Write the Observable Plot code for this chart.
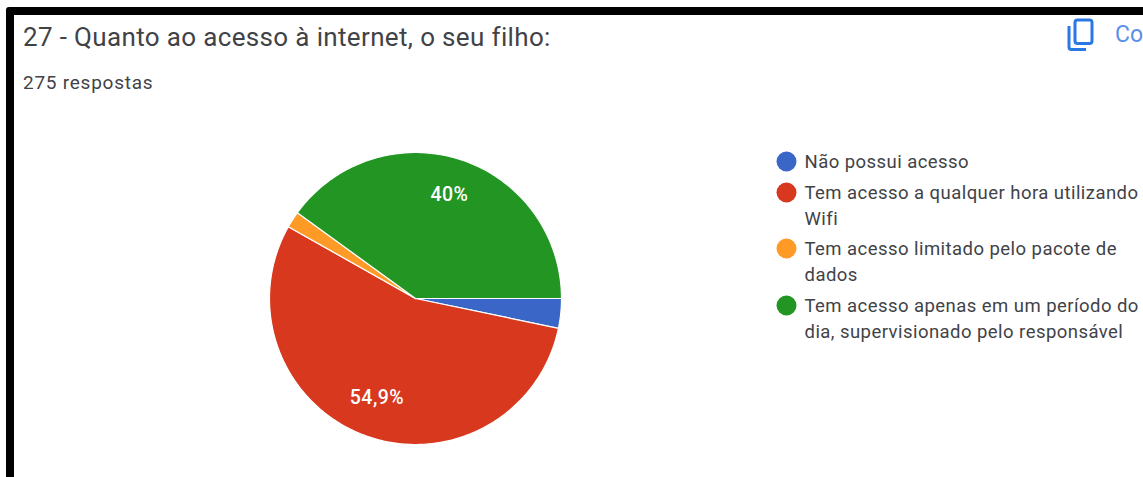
<!DOCTYPE html>
<html lang="pt">
<head>
<meta charset="utf-8">
<script src="https://cdn.jsdelivr.net/npm/d3@7"></script>
<script src="https://cdn.jsdelivr.net/npm/@observablehq/plot@0.6"></script>
<style>
  html, body { margin: 0; padding: 0; width: 1143px; height: 477px; overflow: hidden; background: #fff; font-family: Roboto, sans-serif; }
  #page { position: relative; width: 1143px; height: 477px; overflow: hidden; }
  #frame { position: absolute; left: 6px; top: 7px; width: 1200px; height: 560px; border: 8px solid #000; border-radius: 3px; box-sizing: border-box; pointer-events: none; }
  header { position: relative; height: 115px; }
  #title { position: absolute; left: 23px; top: 21px; font-size: 26px; line-height: 32px; letter-spacing: .35px; color: #3f4347; white-space: nowrap; }
  #sub { position: absolute; left: 23px; top: 72px; font-size: 19px; line-height: 22px; color: #3f4347; letter-spacing: .75px; white-space: nowrap; }
  #copy { position: absolute; left: 1115px; top: 19px; font-size: 23px; line-height: 32px; color: #5a8fe8; white-space: nowrap; }
  #icon { position: absolute; left: 1066px; top: 17px; }
  #chart svg { display: block; letter-spacing: .45px; }
</style>
</head>
<body>
<div id="page">
  <header>
    <div id="title">27 - Quanto ao acesso à internet, o seu filho:</div>
    <div id="sub">275 respostas</div>
    <svg id="icon" width="32" height="36" viewBox="0 0 32 36">
      <path d="M3 9 V30 a2.5 2.5 0 0 0 2.5 2.5 H20" fill="none" stroke="#2a78e6" stroke-width="3"/>
      <rect x="9" y="3" width="17" height="23.5" rx="2.5" fill="none" stroke="#2a78e6" stroke-width="3"/>
    </svg>
    <div id="copy">Co</div>
  </header>
  <div id="chart"></div>
  <div id="frame"></div>
</div>
<script>
const categories = [
  "Não possui acesso",
  "Tem acesso a qualquer hora utilizando\nWifi",
  "Tem acesso limitado pelo pacote de\ndados",
  "Tem acesso apenas em um período do\ndia, supervisionado pelo responsável"
];
const responses = [9, 151, 5, 110];
const sliceLabels = ["", "54,9%", "", "40%"];
const colors = ["#3a66c8", "#d8381e", "#ff9a26", "#239523"];

const W = 1143, H = 362, R = 146, CX = 415, CY = 183;
const legendDotX = 786, legendTextX = 804;
const legendY = [46, 77, 133, 190];
const legendFont = 18.5, legendLine = 26.5, legendTextLift = -2;
const labelNudge = [0, -3, 0, 0];

const total = d3.sum(responses);
let cum = 0;
const slices = categories.map((category, i) => {
  const a0 = cum / total * 2 * Math.PI;
  cum += responses[i];
  const a1 = cum / total * 2 * Math.PI;
  return {category, a0, a1, mid: (a0 + a1) / 2, label: sliceLabels[i], lines: category.split("\n").length};
});
// clockwise from 3 o'clock, in unit-radius coordinates (y up)
const px = (r, a) => r * Math.cos(a);
const py = (r, a) => -r * Math.sin(a);

const outline = slices.flatMap(s => {
  const n = Math.max(2, Math.ceil((s.a1 - s.a0) * 180 / Math.PI));
  const rim = d3.range(n + 1).map(k => {
    const a = s.a0 + (s.a1 - s.a0) * k / n;
    return {category: s.category, x: px(1, a), y: py(1, a)};
  });
  const hub = {category: s.category, x: 0, y: 0};
  return [hub, ...rim, hub];
});

const plot = Plot.plot({
  width: W, height: H,
  marginTop: 0, marginRight: 0, marginBottom: 0, marginLeft: 0,
  style: {fontFamily: "Roboto, sans-serif", background: "transparent"},
  x: {axis: null, domain: [-CX / R, (W - CX) / R], range: [0, W]},
  y: {axis: null, domain: [(CY - H) / R, CY / R], range: [H, 0]},
  color: {domain: categories, range: colors},
  marks: [
    Plot.line(outline, {x: "x", y: "y", fill: "category", stroke: "white", strokeWidth: 1.2, strokeLinejoin: "round", curve: "linear"}),
    ...slices.flatMap((s, i) => s.label ? [Plot.text([s], {
      x: d => px(0.75, d.mid), y: d => py(0.75, d.mid), text: "label",
      fill: "white", fontSize: 19.5, fontWeight: 500, dy: labelNudge[i]
    })] : []),
    ...slices.flatMap((s, i) => [
      Plot.dot([s], {frameAnchor: "top-left", dx: legendDotX, dy: legendY[i], r: 10, fill: "category", stroke: "none"}),
      Plot.text([s], {
        frameAnchor: "top-left", dx: legendTextX,
        dy: legendY[i] + legendTextLift + (s.lines - 1) * legendLine / 2,
        text: "category", textAnchor: "start", lineAnchor: "middle",
        lineHeight: legendLine / legendFont, fontSize: legendFont, fill: "#3f4347"
      })
    ])
  ]
});
document.getElementById("chart").appendChild(plot);
</script>
</body>
</html>
